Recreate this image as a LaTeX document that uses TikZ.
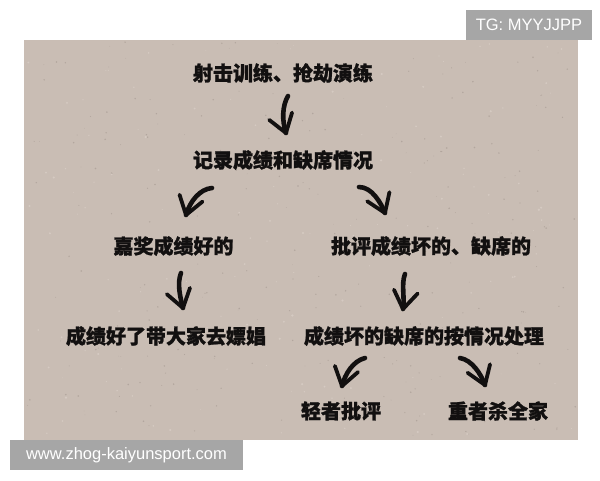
\documentclass[tikz,border=0pt]{standalone}
\usepackage{fontspec}
\setmainfont{Liberation Sans}
\newfontfamily\cjk{Noto Sans CJK SC}[BoldFont={* Black}, BoldFeatures={FakeBold=1.2}]
\usetikzlibrary{decorations.markings}
\definecolor{paper}{RGB}{201,189,180}
\definecolor{speckD}{RGB}{160,148,140}
\definecolor{speckL}{RGB}{222,212,204}
\definecolor{tagbg}{RGB}{166,166,166}
\definecolor{ink}{RGB}{18,16,16}
\tikzset{
  lbl/.style={font=\cjk\bfseries\fontsize{20pt}{24pt}\selectfont, text=ink, inner sep=0pt, anchor=center},
  tag/.style={fill=tagbg, text=white, inner sep=0pt, font=\fontsize{16.5pt}{20pt}\selectfont},
  brush/.style={draw=ink, line width=4.6pt, line cap=round, line join=round,
    postaction={decorate, decoration={markings, mark=at position -0.6pt with {
      \draw[ink, line width=3.8pt, line cap=round, line join=round] (-17pt,12pt) -- (0.6pt,0pt) -- (-17pt,-12pt);}}}},
}
\begin{document}
\begin{tikzpicture}[x=1pt,y=-1pt]
\useasboundingbox (0,0) rectangle (600,480);
\fill[white] (0,0) rectangle (600,480);
\fill[paper] (24,40) rectangle (578,440);
% paper speckles
\pgfmathsetseed{4711}
\foreach \i in {1,...,260}{
  \pgfmathsetmacro{\px}{26+550*rnd}
  \pgfmathsetmacro{\py}{42+396*rnd}
  \pgfmathsetmacro{\pr}{0.3+0.6*rnd}
  \fill[speckD, opacity=0.55] (\px,\py) circle[radius=\pr pt];
}
\foreach \i in {1,...,160}{
  \pgfmathsetmacro{\px}{26+550*rnd}
  \pgfmathsetmacro{\py}{42+396*rnd}
  \pgfmathsetmacro{\pr}{0.4+0.8*rnd}
  \fill[speckL, opacity=0.6] (\px,\py) circle[radius=\pr pt];
}
% tags
\node[tag, minimum width=126pt, minimum height=30pt] (tg) at (529,25) {TG: MYYJJPP};
\node[tag, minimum width=233pt, minimum height=30pt] (url) at (126.5,455) {www.zhog-kaiyunsport.com};
% labels
\node[lbl] (t1) at (283,73) {射击训练、抢劫演练};
\node[lbl] (t2) at (283,160) {记录成绩和缺席情况};
\node[lbl] (t3) at (173.5,246) {嘉奖成绩好的};
\node[lbl] (t4) at (431,246) {批评成绩坏的、缺席的};
\node[lbl] (t5) at (166,336) {成绩好了带大家去嫖娼};
\node[lbl] (t6) at (424,336) {成绩坏的缺席的按情况处理};
\node[lbl] (t7) at (341,411) {轻者批评};
\node[lbl] (t8) at (498,411) {重者杀全家};
% arrow end points
\coordinate (a1s) at (288,96);  \coordinate (a1e) at (286,133);
\coordinate (a2s) at (212,188); \coordinate (a2e) at (186,215);
\coordinate (a3s) at (359,187); \coordinate (a3e) at (385,213);
\coordinate (a4s) at (181,273); \coordinate (a4e) at (183,308);
\coordinate (a5s) at (405,274); \coordinate (a5e) at (403,309);
\coordinate (a6s) at (365,358); \coordinate (a6e) at (342,386);
\coordinate (a7s) at (460,358); \coordinate (a7e) at (485,385);
% arrows
\draw[brush] (a1s) .. controls (282,106) and (282,121) .. (a1e);
\draw[brush] (a2s) .. controls (200,189) and (190,201) .. (a2e);
\draw[brush] (a3s) .. controls (372,187) and (381,203) .. (a3e);
\draw[brush] (a4s) .. controls (177,283) and (180,297) .. (a4e);
\draw[brush] (a5s) .. controls (401,284) and (405,298) .. (a5e);
\draw[brush] (a6s) .. controls (353,361) and (345,374) .. (a6e);
\draw[brush] (a7s) .. controls (472,360) and (481,374) .. (a7e);
\end{tikzpicture}
\end{document}
